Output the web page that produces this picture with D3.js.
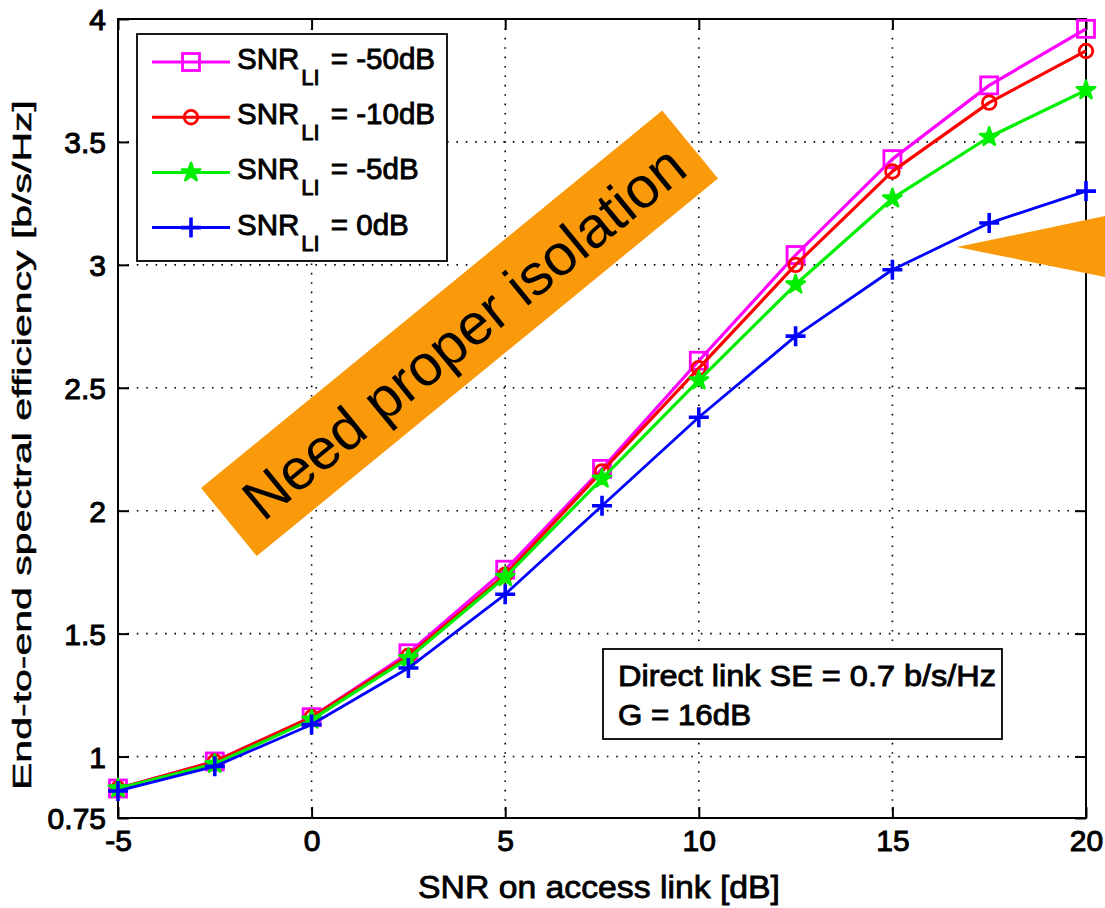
<!DOCTYPE html>
<html>
<head>
<meta charset="utf-8">
<script src="https://cdn.jsdelivr.net/npm/d3@7"></script>
<style>
  html, body { margin: 0; padding: 0; background: #fff; }
  svg text { font-family: "Liberation Sans", Arial, Helvetica, sans-serif; fill: #000; }
</style>
</head>
<body>
<svg id="chart" width="1105" height="908"></svg>
<script>
// ---- data ----
const snrAccess = [-5, -2.5, 0, 2.5, 5, 7.5, 10, 12.5, 15, 17.5, 20];
const seLI_m50 = [0.87, 0.98, 1.16, 1.42, 1.76, 2.17, 2.61, 3.04, 3.43, 3.73, 3.96];
const seLI_m10 = [0.87, 0.98, 1.16, 1.41, 1.74, 2.16, 2.58, 3.00, 3.38, 3.66, 3.87];
const seLI_m5  = [0.87, 0.97, 1.15, 1.40, 1.73, 2.13, 2.53, 2.92, 3.27, 3.52, 3.71];
const seLI_0   = [0.86, 0.96, 1.13, 1.36, 1.66, 2.02, 2.38, 2.71, 2.98, 3.17, 3.30];
const seriesNames = ["= -50dB", "= -10dB", "= -5dB", "= 0dB"];
const xTicks = [-5, 0, 5, 10, 15, 20];
const yTicks = [0.75, 1, 1.5, 2, 2.5, 3, 3.5, 4];
const xLabel = "SNR on access link [dB]";
const yLabel = "End-to-end spectral efficiency [b/s/Hz]";
const noteLines = ["Direct link SE = 0.7 b/s/Hz", "G = 16dB"];
const calloutText = "Need proper isolation";

const series = [
  {name: seriesNames[0], values: seLI_m50, color: "#ff00ff", marker: "square"},
  {name: seriesNames[1], values: seLI_m10, color: "#ff0000", marker: "circle"},
  {name: seriesNames[2], values: seLI_m5,  color: "#00ee00", marker: "star"},
  {name: seriesNames[3], values: seLI_0,   color: "#0000ff", marker: "plus"}
];

const svg = d3.select("#chart");
const L = 118, R = 1086, T = 19, B = 818;
const x = d3.scaleLinear().domain([-5, 20]).range([L, R]);
const y = d3.scaleLinear().domain([0.75, 4]).range([B, T]);

// grid
const grid = svg.append("g").attr("stroke", "#000").attr("stroke-width", 1.6)
  .attr("stroke-dasharray", "1.6,7.8");
grid.selectAll("line.gx").data(xTicks.filter(d => d > -5 && d < 20)).enter().append("line")
  .attr("x1", d => x(d)).attr("x2", d => x(d)).attr("y1", T).attr("y2", B);
grid.selectAll("line.gy").data(yTicks.filter(d => d > 0.75 && d < 4)).enter().append("line")
  .attr("y1", d => y(d)).attr("y2", d => y(d)).attr("x1", L).attr("x2", R);

// axes (ticks inside, mirrored)
const tickLen = 11;
const axB = svg.append("g").attr("transform", `translate(0,${B})`)
  .call(d3.axisBottom(x).tickValues(xTicks).tickSizeInner(-tickLen).tickSizeOuter(0).tickPadding(14)
    .tickFormat(d => String(d)));
const axT = svg.append("g").attr("transform", `translate(0,${T})`)
  .call(d3.axisTop(x).tickValues(xTicks).tickSizeInner(-tickLen).tickSizeOuter(0).tickFormat(""));
const axL = svg.append("g").attr("transform", `translate(${L},0)`)
  .call(d3.axisLeft(y).tickValues(yTicks).tickSizeInner(-tickLen).tickSizeOuter(0).tickPadding(12)
    .tickFormat(d => String(d)));
const axR = svg.append("g").attr("transform", `translate(${R},0)`)
  .call(d3.axisRight(y).tickValues(yTicks).tickSizeInner(-tickLen).tickSizeOuter(0).tickFormat(""));
[axB, axT, axL, axR].forEach(a => {
  a.select(".domain").remove();
  a.selectAll(".tick line").attr("stroke", "#000").attr("stroke-width", 2);
  a.selectAll("text").attr("font-size", 30).attr("font-family", "Liberation Sans, Arial, sans-serif")
    .attr("fill", "#000").attr("stroke", "#000").attr("stroke-width", 1);
});
axB.selectAll(".tick text").attr("dy", "0.62em");
axL.selectAll(".tick text").attr("dy", "0.36em");

// box
svg.append("rect").attr("x", L).attr("y", T).attr("width", R - L).attr("height", B - T)
  .attr("fill", "none").attr("stroke", "#000").attr("stroke-width", 2);

// markers
function drawMarker(g, type, color, cx, cy) {
  if (type === "square") {
    g.append("rect").attr("x", cx - 8.5).attr("y", cy - 8.5).attr("width", 17).attr("height", 17)
      .attr("fill", "none").attr("stroke", color).attr("stroke-width", 2.8);
  } else if (type === "circle") {
    g.append("circle").attr("cx", cx).attr("cy", cy).attr("r", 6.8)
      .attr("fill", "none").attr("stroke", color).attr("stroke-width", 2.8);
  } else if (type === "star") {
    g.append("path").attr("d", d3.symbol().type(d3.symbolStar).size(105)())
      .attr("transform", `translate(${cx},${cy})`)
      .attr("fill", color).attr("stroke", color).attr("stroke-width", 2.5).attr("stroke-linejoin", "round");
  } else if (type === "plus") {
    g.append("path").attr("d", `M${cx - 10},${cy}H${cx + 10}M${cx},${cy - 10}V${cy + 10}`)
      .attr("stroke", color).attr("stroke-width", 3.6).attr("fill", "none");
  }
}

const line = d3.line().x((d, i) => x(snrAccess[i])).y(d => y(d));
series.forEach(s => {
  const g = svg.append("g");
  g.append("path").attr("d", line(s.values)).attr("fill", "none").attr("stroke", s.color)
    .attr("stroke-width", s.marker === "plus" ? 2.8 : 3.2).attr("stroke-linejoin", "round");
  s.values.forEach((v, i) => drawMarker(g, s.marker, s.color, x(snrAccess[i]), y(v)));
});

// legend
const lg = svg.append("g");
lg.append("rect").attr("x", 137).attr("y", 34).attr("width", 310).attr("height", 227)
  .attr("fill", "#fff").attr("stroke", "#000").attr("stroke-width", 1.8);
series.forEach((s, i) => {
  const by = 69 + i * 55.2;
  const ly = by - 7;
  lg.append("line").attr("x1", 152).attr("x2", 230).attr("y1", ly).attr("y2", ly)
    .attr("stroke", s.color).attr("stroke-width", 3);
  drawMarker(lg, s.marker, s.color, 191, ly);
  const t = lg.append("text").attr("x", 237).attr("y", by).attr("font-size", 29.5)
    .attr("stroke", "#000").attr("stroke-width", 0.9);
  t.append("tspan").text("SNR");
  t.append("tspan").attr("font-size", 22).attr("dy", 16).attr("dx", 2).text("LI");
  t.append("tspan").attr("dy", -16).attr("dx", 3).text(" " + s.name);
});

// note box
svg.append("rect").attr("x", 603).attr("y", 649).attr("width", 399).attr("height", 90)
  .attr("fill", "#fff").attr("stroke", "#000").attr("stroke-width", 1.8);
noteLines.forEach((txt, i) => {
  const t = svg.append("text").attr("x", 618).attr("y", 686 + i * 39).attr("font-size", 30)
    .attr("stroke", "#000").attr("stroke-width", 0.9).text(txt);
  if (i === 0) t.attr("textLength", 378).attr("lengthAdjust", "spacingAndGlyphs");
  else t.attr("textLength", 133).attr("lengthAdjust", "spacingAndGlyphs");
});

// x & y labels
svg.append("text").attr("x", 599).attr("y", 898).attr("text-anchor", "middle")
  .attr("font-size", 32).attr("textLength", 362).attr("lengthAdjust", "spacingAndGlyphs")
  .attr("stroke", "#000").attr("stroke-width", 0.8).text(xLabel);
svg.append("text").attr("transform", "translate(31,445) rotate(-90)").attr("text-anchor", "middle")
  .attr("font-size", 25).attr("textLength", 690).attr("lengthAdjust", "spacingAndGlyphs")
  .attr("stroke", "#000").attr("stroke-width", 0.5).text(yLabel);

// orange callout
const orange = "#fa9a0a";
const cg = svg.append("g").attr("transform", "translate(459.5,333.3) rotate(-39.3)");
cg.append("rect").attr("x", -298).attr("y", -44).attr("width", 596).attr("height", 88).attr("fill", orange);
cg.append("text").attr("x", 4).attr("y", 22).attr("text-anchor", "middle").attr("font-size", 58)
  .text(calloutText);

// orange arrow triangle
svg.append("path").attr("d", "M957,247L1110,215L1110,278Z").attr("fill", orange);
</script>
</body>
</html>
